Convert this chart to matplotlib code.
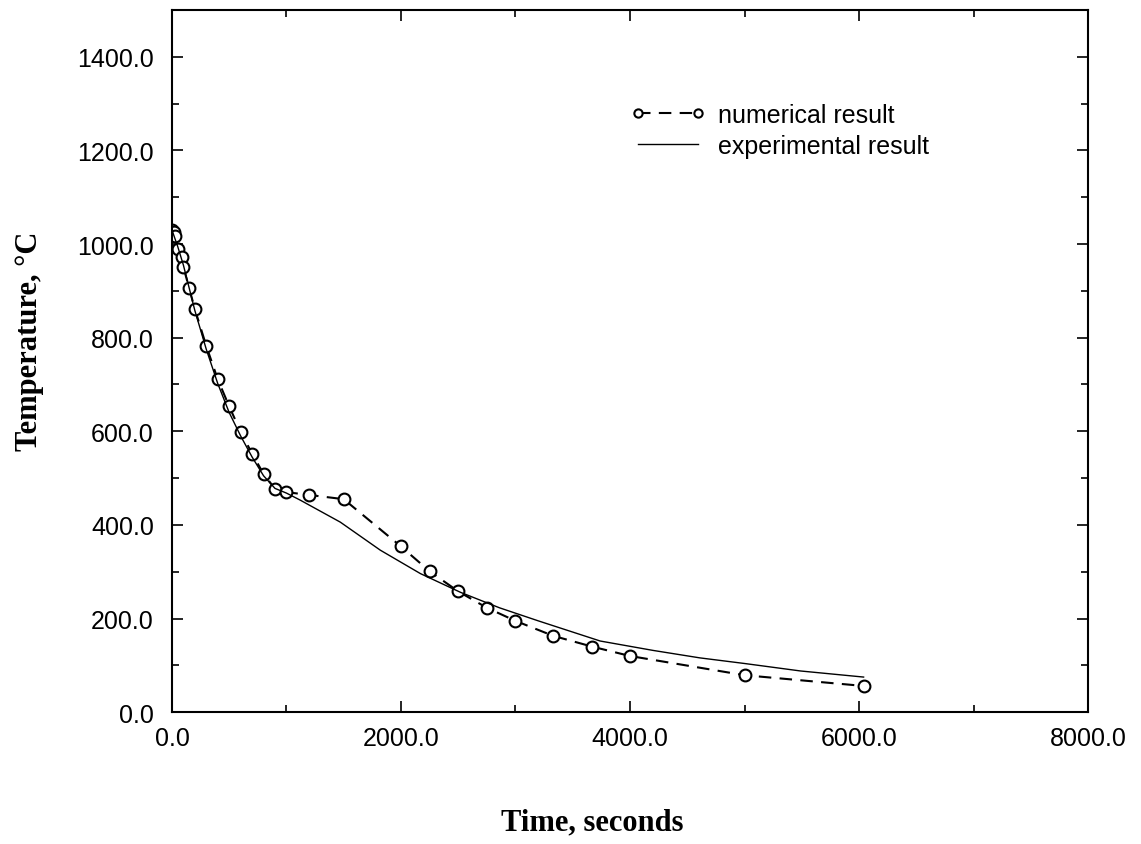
import matplotlib.pyplot as plt
from matplotlib.ticker import MultipleLocator, FormatStrFormatter

# resultado numerico (circulos)
t_num = [0, 15, 30, 50, 85, 100, 150, 200, 300, 400, 500, 600, 700, 800, 900,
         1000, 1200, 1500, 2000, 2250, 2500, 2750, 3000, 3330, 3670, 4000,
         5000, 6040]
T_num = [1030, 1025, 1018, 990, 973, 951, 906, 861, 782, 711, 653, 599, 552,
         509, 477, 470, 464, 455, 354, 301, 258, 223, 195, 163, 140, 120,
         79, 56]

# resultado experimental (linea continua)
t_exp = [0, 50, 100, 200, 300, 400, 500, 600, 700, 800, 900, 1000, 1120, 1470,
         1820, 2170, 2520, 2860, 3200, 3740, 4200, 4610, 5000, 5490, 6040]
T_exp = [1030, 995, 955, 858, 775, 702, 640, 590, 545, 505, 478, 468, 453,
         406, 346, 296, 256, 223, 195, 152, 132, 116, 104, 88, 75]

fig = plt.figure(figsize=(11.41, 8.45), dpi=100)
ax = fig.add_axes([0.1507, 0.156, 0.8029, 0.831])

ax.plot(t_num, T_num, linestyle=(0, (6, 4)), color='black', linewidth=1.5,
        marker='o', markersize=8.5, markerfacecolor='white',
        markeredgecolor='black', markeredgewidth=1.5, label='numerical result')
ax.plot(t_exp, T_exp, color='black', linewidth=1.0, label='experimental result')

ax.set_xlim(0, 8000)
ax.set_ylim(0, 1500)
ax.xaxis.set_major_locator(MultipleLocator(2000))
ax.xaxis.set_minor_locator(MultipleLocator(1000))
ax.yaxis.set_major_locator(MultipleLocator(200))
ax.yaxis.set_minor_locator(MultipleLocator(100))
ax.xaxis.set_major_formatter(FormatStrFormatter('%.1f'))
ax.yaxis.set_major_formatter(FormatStrFormatter('%.1f'))
ax.tick_params(which='both', direction='in', top=True, right=True,
               labelsize=18, width=1.2)
ax.tick_params(which='major', length=8)
ax.tick_params(which='minor', length=5)
ax.tick_params(axis='x', pad=10)
ax.tick_params(axis='y', pad=13)
for lab in ax.get_xticklabels() + ax.get_yticklabels():
    lab.set_family('Liberation Sans')
for s in ax.spines.values():
    s.set_linewidth(1.5)

ax.set_xlabel('Time, seconds', family='Liberation Serif', fontweight='bold',
              fontsize=22)
ax.set_ylabel('Temperature, °C', family='Liberation Serif',
              fontweight='bold', fontsize=22)
ax.xaxis.set_label_coords(0.4585, -0.135)
ax.yaxis.set_label_coords(-0.14, 0.53)

leg = ax.legend(loc='upper left', bbox_to_anchor=(0.5, 0.868), frameon=False,
                prop={'family': 'Liberation Sans', 'size': 18},
                handlelength=3.0, handletextpad=0.5, labelspacing=0.3,
                borderpad=0, borderaxespad=0, numpoints=2, markerscale=0.7)

plt.savefig('out.png', dpi=100)
